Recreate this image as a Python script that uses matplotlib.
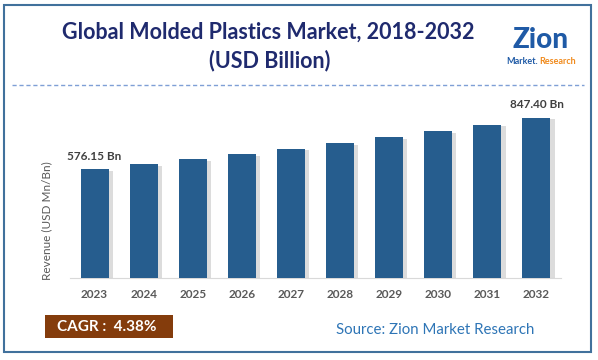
import matplotlib
matplotlib.use("Agg")
import matplotlib.pyplot as plt
import matplotlib.patheffects as pe
from matplotlib.patches import Rectangle
from matplotlib.lines import Line2D

# data
years = ["2023", "2024", "2025", "2026", "2027", "2028", "2029", "2030", "2031", "2032"]
revenue = [576.15, 601.4, 627.7, 655.2, 683.9, 713.9, 745.2, 777.8, 811.9, 847.40]
labels = {0: "576.15 Bn", 9: "847.40 Bn"}
title1 = "Global Molded Plastics Market, 2018-2032"
title2 = "(USD Billion)"
cagr = "CAGR :  4.38%"
source = "Source: Zion Market Research"

plt.rcParams['font.family'] = ['Lato', 'DejaVu Sans']

W, H = 598, 360
fig = plt.figure(figsize=(W / 100, H / 100), dpi=100)

def fx(px):
    return px / W

def fy(py):
    return 1 - py / H

# outer frame
fig.patches.append(Rectangle((fx(4), fy(352)), fx(591) - fx(4), fy(5) - fy(352),
                             transform=fig.transFigure, fill=False,
                             edgecolor="#41719C", linewidth=1.5))
# dashed separator under the title
fig.lines.append(Line2D([fx(12), fx(584)], [fy(85), fy(85)], transform=fig.transFigure,
                        color="#7F9FD6", linewidth=1, linestyle=(0, (3, 2))))

fig.text(fx(268), fy(32), title1, ha="center", va="center",
         fontsize=15.5, fontweight="bold", color="#1F2A6E")
fig.text(fx(270), fy(61), title2, ha="center", va="center",
         fontsize=15.5, fontweight="bold", color="#1F2A6E")

# logo as text
fig.text(fx(541), fy(40), "Zion", ha="center", va="center", fontsize=20,
         fontweight="black", color="#1F5AA6")
fig.text(fx(522), fy(61), "Market.", ha="center", va="center", fontsize=6.5,
         fontweight="bold", color="#1F5AA6")
fig.text(fx(558), fy(61), "Research", ha="center", va="center", fontsize=6.5,
         fontweight="bold", color="#F08A1C")

# bar chart
ax = fig.add_axes([fx(70), fy(278), fx(561) - fx(70), fy(100) - fy(278)])
x = range(len(years))
bars = ax.bar(x, revenue, width=0.57, color="#265D8E", zorder=3)
for b in bars:
    b.set_path_effects([pe.SimplePatchShadow(offset=(3, -1), shadow_rgbFace="#8C8C8C", alpha=0.3),
                        pe.Normal()])
ax.set_xlim(-0.5, len(years) - 0.5)
ax.set_ylim(0, 847.4 * 178 / 160)
ax.set_xticks(list(x))
ax.set_xticklabels(years, fontsize=8.5, fontweight="bold", color="#595959")
ax.tick_params(axis="x", length=0, pad=8)
ax.set_yticks([])
for s in ["top", "right", "left"]:
    ax.spines[s].set_visible(False)
ax.spines["bottom"].set_color("#D9D9D9")
ax.set_ylabel("Revenue (USD Mn/Bn)", fontsize=8.5, color="#595959")
ax.yaxis.set_label_coords(-0.036, 0.32)

for i, txt in labels.items():
    ax.annotate(txt, (i, revenue[i]), xytext=(0, 13), textcoords="offset pixels",
                ha="center", va="center", fontsize=8.5, fontweight="bold", color="#404040")

# CAGR box and source
fig.patches.append(Rectangle((fx(45), fy(338)), fx(173) - fx(45), fy(315) - fy(338),
                             transform=fig.transFigure, facecolor="#843C0C", edgecolor="none"))
fig.text(fx(107), fy(327), cagr, ha="center", va="center", fontsize=11,
         fontweight="bold", color="white")
fig.text(fx(435), fy(330), source, ha="center", va="center", fontsize=10.8, color="#2E75B6")

fig.savefig("out.png", dpi=100)
